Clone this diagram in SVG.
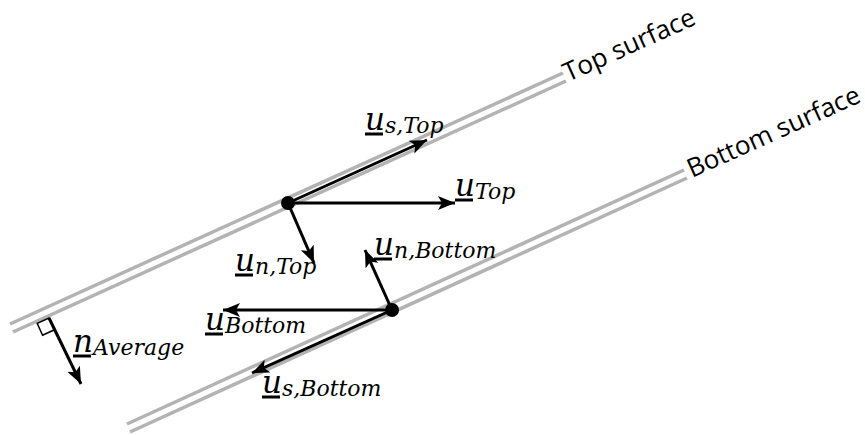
<svg xmlns="http://www.w3.org/2000/svg" width="865" height="435" viewBox="0 0 865 435">
  <style>
    .surf { stroke: #b3b3b3; stroke-width: 3.5; fill: none; }
    .vec { stroke: #000; stroke-width: 3; fill: none; marker-end: url(#ah); }
    .lbl { font-family: "DejaVu Serif", "Liberation Serif", serif; font-style: italic; font-size: 31px; fill: #000; }
    .sub { font-size: 22px; }
    .ul { stroke: #000; stroke-width: 3; }
    .stxt { font-family: "Open Sans", "Noto Sans", sans-serif; font-size: 26px; fill: #000; }
  </style>
  <defs>
    <marker id="ah" markerUnits="userSpaceOnUse" markerWidth="20" markerHeight="16" refX="17" refY="7" orient="auto">
      <path d="M0,0 L17,7 L0,14 L4,7 Z" fill="#000"/>
    </marker>
  </defs>

  <g id="top-surface">
    <line class="surf" x1="10" y1="324" x2="563" y2="73"/>
    <line class="surf" x1="13" y1="332" x2="566" y2="81"/>
    <text class="stxt" transform="translate(568,82) rotate(-24.2)">Top surface</text>
  </g>

  <g id="bottom-surface">
    <line class="surf" x1="127" y1="424" x2="684" y2="170"/>
    <line class="surf" x1="130" y1="432" x2="687" y2="178"/>
    <text class="stxt" transform="translate(692,178) rotate(-24.2)">Bottom surface</text>
  </g>

  <g id="connectors">
    <line class="vec" x1="288" y1="203" x2="427" y2="140"/>
    <line class="vec" x1="288" y1="203" x2="455" y2="203"/>
    <line class="vec" x1="288" y1="203" x2="314" y2="263"/>
    <line class="vec" x1="392" y1="310" x2="365" y2="250"/>
    <line class="vec" x1="392" y1="310" x2="223" y2="310"/>
    <line class="vec" x1="392" y1="310" x2="252" y2="373"/>
    <line class="vec" x1="49" y1="318" x2="81" y2="384"/>
  </g>

  <g id="right-angle">
    <polygon points="49,318 37.2,323.4 42.6,335.2 54.4,329.8" fill="none" stroke="#000" stroke-width="1.5"/>
  </g>

  <g id="top-point"><circle cx="288" cy="203" r="7" fill="#000"/></g>
  <g id="bottom-point"><circle cx="392" cy="310" r="7" fill="#000"/></g>

  <g id="label-us-top">
    <text class="lbl" x="365" y="130">u<tspan class="sub" dy="3">s,Top</tspan></text>
    <line class="ul" x1="365" y1="134" x2="383" y2="134"/>
  </g>
  <g id="label-u-top">
    <text class="lbl" x="455" y="196">u<tspan class="sub" dy="3">Top</tspan></text>
    <line class="ul" x1="455" y1="200" x2="473" y2="200"/>
  </g>
  <g id="label-un-top">
    <text class="lbl" x="235" y="271">u<tspan class="sub" dy="3">n,Top</tspan></text>
    <line class="ul" x1="235" y1="275" x2="253" y2="275"/>
  </g>
  <g id="label-un-bottom">
    <text class="lbl" x="374" y="255">u<tspan class="sub" dy="3">n,Bottom</tspan></text>
    <line class="ul" x1="374" y1="259" x2="392" y2="259"/>
  </g>
  <g id="label-u-bottom">
    <text class="lbl" x="205" y="330">u<tspan class="sub" dy="3">Bottom</tspan></text>
    <line class="ul" x1="205" y1="334" x2="223" y2="334"/>
  </g>
  <g id="label-us-bottom">
    <text class="lbl" x="262" y="393">u<tspan class="sub" dy="3">s,Bottom</tspan></text>
    <line class="ul" x1="262" y1="397" x2="280" y2="397"/>
  </g>
  <g id="label-n-average">
    <text class="lbl" x="73" y="352">n<tspan class="sub" dy="3">Average</tspan></text>
    <line class="ul" x1="73" y1="356" x2="91" y2="356"/>
  </g>
</svg>
